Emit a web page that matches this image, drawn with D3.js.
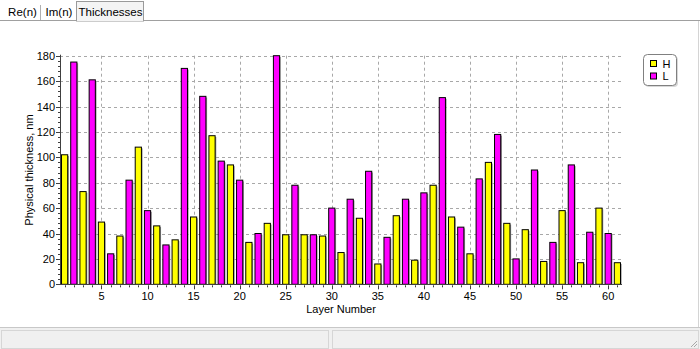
<!DOCTYPE html>
<html>
<head>
<meta charset="utf-8">
<script src="https://cdn.jsdelivr.net/npm/d3@7"></script>
<style>
  html, body { margin: 0; padding: 0; background: #fff; }
  svg { display: block; font-family: "Liberation Sans", Arial, sans-serif; }
</style>
</head>
<body>
<svg id="chart" width="700" height="349"></svg>
<script>
// Layer thicknesses (nm). H layers are the odd layers 1..61, L layers the even layers 2..60.
const thicknessH = [102, 73, 49, 38, 108, 46, 35, 53, 117, 94, 33, 48, 39, 39, 38, 25,
  52, 16, 54, 19, 78, 53, 24, 96, 48, 43, 18, 58, 17, 60, 17];
const thicknessL = [175, 161, 24, 82, 58, 31, 170, 148, 97, 82, 40, 180, 78, 39, 60, 67,
  89, 37, 67, 72, 147, 45, 83, 118, 20, 90, 33, 94, 41, 40];
const yTicks = [0, 20, 40, 60, 80, 100, 120, 140, 160, 180];
const xTicks = [5, 10, 15, 20, 25, 30, 35, 40, 45, 50, 55, 60];
const tabs = ["Re(n)", "Im(n)", "Thicknesses"];
const legendItems = [["H", "#ffff00"], ["L", "#ff00ff"]];

const W = 700, H = 349;
const PLOT = { left: 60, right: 622, top: 55.7, bottom: 284.3 };
const NARROW = "'Liberation Sans Narrow', 'Arial Narrow', 'Liberation Sans', Arial, sans-serif";

const svg = d3.select("#chart");

// ---- window chrome: tabs + status bar
const tabX = [3, 40, 76, 143];
svg.append("line").attr("x1", 0).attr("x2", W).attr("y1", 20.5).attr("y2", 20.5)
  .attr("stroke", "#a0a0a0");
svg.append("rect").attr("x", tabX[2] + 0.5).attr("y", 1.5)
  .attr("width", tabX[3] - tabX[2]).attr("height", 19.5)
  .attr("fill", "#f4f4f4").attr("stroke", "#9a9a9a");
svg.append("line").attr("x1", tabX[2] + 1).attr("x2", tabX[3]).attr("y1", 20.5).attr("y2", 20.5)
  .attr("stroke", "#f4f4f4");
svg.append("line").attr("x1", tabX[1] + 0.5).attr("x2", tabX[1] + 0.5).attr("y1", 5).attr("y2", 20)
  .attr("stroke", "#b0b0b0");
tabs.forEach((t, i) => {
  svg.append("text").attr("x", (tabX[i] + tabX[i + 1]) / 2 + 1).attr("y", 15.5)
    .attr("text-anchor", "middle").attr("font-size", "11.5px").attr("fill", "#000").text(t);
});
svg.append("line").attr("x1", W - 1.5).attr("x2", W - 1.5).attr("y1", 21).attr("y2", 327)
  .attr("stroke", "#d4d4d4");

svg.append("rect").attr("x", 0).attr("y", 327).attr("width", W).attr("height", H - 327)
  .attr("fill", "#f0f0f0");
svg.append("line").attr("x1", 0).attr("x2", W).attr("y1", 327.5).attr("y2", 327.5)
  .attr("stroke", "#c8c8c8");
for (const [x0, x1] of [[1, 329], [332, 699]]) {
  svg.append("rect").attr("x", x0 + 0.5).attr("y", 330.5).attr("width", x1 - x0 - 1).attr("height", 18)
    .attr("fill", "none").attr("stroke", "#d6d6d6");
}
for (let i = 0; i < 3; i++) {
  svg.append("line").attr("x1", 697 - i * 3).attr("y1", 347).attr("x2", 697).attr("y2", 347 - i * 3)
    .attr("stroke", "#a8a8a8");
}

// ---- scales
const x = d3.scaleLinear().domain([0.5, 61.5]).range([PLOT.left, PLOT.right]);
const y = d3.scaleLinear().domain([0, 180]).range([PLOT.bottom, PLOT.top]);
const barW = 6.2;

const g = svg.append("g");

// grid
g.selectAll(".hgrid").data(yTicks.filter(v => v > 0)).join("line")
  .attr("x1", PLOT.left).attr("x2", PLOT.right)
  .attr("y1", d => Math.round(y(d)) + 0.5).attr("y2", d => Math.round(y(d)) + 0.5)
  .attr("stroke", "#a8a8a8").attr("stroke-dasharray", "3,3");
g.selectAll(".vgrid").data(xTicks).join("line")
  .attr("x1", d => Math.round(x(d)) + 0.5).attr("x2", d => Math.round(x(d)) + 0.5)
  .attr("y1", PLOT.top).attr("y2", PLOT.bottom)
  .attr("stroke", "#a8a8a8").attr("stroke-dasharray", "3,3");

// bars
const bars = [
  ...thicknessH.map((v, i) => ({ layer: 2 * i + 1, v, color: legendItems[0][1] })),
  ...thicknessL.map((v, i) => ({ layer: 2 * i + 2, v, color: legendItems[1][1] })),
].sort((a, b) => a.layer - b.layer);

g.selectAll(".shadow").data(bars).join("rect")
  .attr("x", d => x(d.layer) - barW / 2 + 1.2).attr("y", d => y(d.v) + 1.2)
  .attr("width", barW).attr("height", d => y(0) - y(d.v) - 1.2)
  .attr("fill", "#9a9a9a");
g.selectAll(".bar").data(bars).join("rect")
  .attr("x", d => x(d.layer) - barW / 2).attr("y", d => y(d.v))
  .attr("width", barW).attr("height", d => y(0) - y(d.v))
  .attr("fill", d => d.color).attr("stroke", "#000").attr("stroke-width", 1);

// axes
const axisColor = "#404040";
g.append("line").attr("x1", PLOT.left + 0.5).attr("x2", PLOT.left + 0.5)
  .attr("y1", PLOT.top - 1).attr("y2", PLOT.bottom).attr("stroke", axisColor);
g.append("line").attr("x1", PLOT.left).attr("x2", PLOT.right)
  .attr("y1", Math.round(PLOT.bottom) + 0.5).attr("y2", Math.round(PLOT.bottom) + 0.5)
  .attr("stroke", axisColor);

const yMinor = d3.range(0, 181, 4).filter(v => v % 20 !== 0);
g.selectAll(".ymin").data(yMinor).join("line")
  .attr("x1", PLOT.left - 2).attr("x2", PLOT.left)
  .attr("y1", d => Math.round(y(d)) + 0.5).attr("y2", d => Math.round(y(d)) + 0.5)
  .attr("stroke", axisColor);
g.selectAll(".ymaj").data(yTicks).join("line")
  .attr("x1", PLOT.left - 4).attr("x2", PLOT.left)
  .attr("y1", d => Math.round(y(d)) + 0.5).attr("y2", d => Math.round(y(d)) + 0.5)
  .attr("stroke", axisColor);
g.selectAll(".ylab").data(yTicks).join("text")
  .attr("x", PLOT.left - 5).attr("y", d => y(d) + 4)
  .attr("text-anchor", "end").attr("font-size", "11px").attr("font-family", NARROW)
  .attr("fill", "#000").text(d => d);

const xMinor = d3.range(1, 62).filter(v => v % 5 !== 0);
g.selectAll(".xmin").data(xMinor).join("line")
  .attr("x1", d => Math.round(x(d)) + 0.5).attr("x2", d => Math.round(x(d)) + 0.5)
  .attr("y1", PLOT.bottom + 1).attr("y2", PLOT.bottom + 3)
  .attr("stroke", axisColor);
g.selectAll(".xmaj").data(xTicks).join("line")
  .attr("x1", d => Math.round(x(d)) + 0.5).attr("x2", d => Math.round(x(d)) + 0.5)
  .attr("y1", PLOT.bottom + 1).attr("y2", PLOT.bottom + 5)
  .attr("stroke", axisColor);
g.selectAll(".xlab").data(xTicks).join("text")
  .attr("x", d => x(d)).attr("y", 300)
  .attr("text-anchor", "middle").attr("font-size", "11px").attr("font-family", NARROW)
  .attr("fill", "#000").text(d => d);

// axis titles
svg.append("text").attr("x", (PLOT.left + PLOT.right) / 2).attr("y", 313)
  .attr("text-anchor", "middle").attr("font-size", "11px").attr("fill", "#000")
  .text("Layer Number");
svg.append("text").attr("transform", `translate(33,${(PLOT.top + PLOT.bottom) / 2}) rotate(-90)`)
  .attr("text-anchor", "middle").attr("font-size", "11px").attr("fill", "#000")
  .text("Physical thickness, nm");

// legend
const leg = svg.append("g").attr("transform", "translate(643.5,54.5)");
leg.append("rect").attr("x", 1.5).attr("y", 1.5).attr("width", 33).attr("height", 31).attr("rx", 4)
  .attr("fill", "#d8d8d8");
leg.append("rect").attr("width", 33).attr("height", 31).attr("rx", 4)
  .attr("fill", "#fff").attr("stroke", "#808080");
legendItems.forEach(([label, color], i) => {
  leg.append("rect").attr("x", 7).attr("y", 6 + i * 12.5).attr("width", 6).attr("height", 6)
    .attr("fill", color).attr("stroke", "#000");
  leg.append("text").attr("x", 19).attr("y", 13 + i * 12.5)
    .attr("font-size", "11px").attr("fill", "#000").text(label);
});
</script>
</body>
</html>
